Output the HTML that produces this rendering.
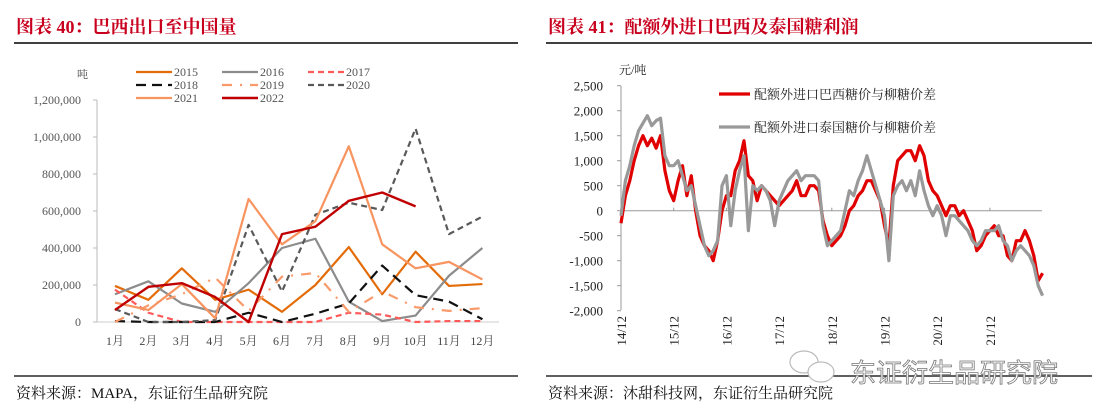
<!DOCTYPE html>
<html><head><meta charset="utf-8">
<style>
html,body{margin:0;padding:0;background:#fff;}
body{width:1101px;height:420px;overflow:hidden;position:relative;font-family:"Liberation Serif","Noto Serif CJK SC",serif;}
svg{position:absolute;left:0;top:0;}
</style></head>
<body>
<svg id="c" width="1101" height="420" xmlns="http://www.w3.org/2000/svg">
  <text x="16" y="33" font-size="18" font-weight="bold" fill="#C8001E" font-family="'Liberation Serif','Noto Serif CJK SC',serif">图表 40：巴西出口至中国量</text>
  <line x1="14" y1="43" x2="518" y2="43" stroke="#000" stroke-width="1.5"/>
  <text x="548" y="33" font-size="18" font-weight="bold" fill="#C8001E" font-family="'Liberation Serif','Noto Serif CJK SC',serif">图表 41：配额外进口巴西及泰国糖利润</text>
  <line x1="546" y1="43" x2="1092" y2="43" stroke="#000" stroke-width="1.5"/>
  <line x1="14" y1="376" x2="518" y2="376" stroke="#000" stroke-width="1.2"/>
  <line x1="546" y1="376" x2="1092" y2="376" stroke="#000" stroke-width="1.2"/>
  <text x="16" y="398" font-size="15" fill="#111" font-family="'Liberation Serif','Noto Serif CJK SC',serif">资料来源：MAPA，东证衍生品研究院</text>
  <text x="548" y="398" font-size="15" fill="#111" font-family="'Liberation Serif','Noto Serif CJK SC',serif">资料来源：沐甜科技网，东证衍生品研究院</text>
  <g id="left"></g>
  <g id="right"></g>
  <g>
    <ellipse cx="804" cy="362" rx="14" ry="11" fill="#fff" stroke="#bbb" stroke-width="1.2"/>
    <ellipse cx="821" cy="372" rx="13" ry="10" fill="#fff" stroke="#bbb" stroke-width="1.2"/>
    <text x="850" y="382" font-size="26" fill="#fff" stroke="#777" stroke-width="0.8" font-family="'Liberation Sans','Noto Sans CJK SC',sans-serif">东证衍生品研究院</text>
  </g>
</svg>
<script>
// ---- Left chart data ----
const months = ["1月","2月","3月","4月","5月","6月","7月","8月","9月","10月","11月","12月"];
const leftTicks = [0,200000,400000,600000,800000,1000000,1200000];
const y2015 = [195000,120000,290000,120000,175000,55000,200000,405000,150000,380000,195000,205000];
const y2016 = [150000,220000,100000,55000,210000,400000,450000,110000,5000,35000,250000,400000];
const y2017 = [175000,50000,0,0,0,0,0,50000,40000,0,5000,5000];
const y2018 = [5000,0,0,0,50000,0,45000,100000,305000,145000,110000,15000];
const y2019 = [0,90000,150000,240000,60000,245000,265000,55000,165000,80000,60000,75000];
const y2020 = [70000,0,0,10000,525000,165000,580000,645000,605000,1045000,475000,570000];
const y2021 = [105000,65000,205000,20000,665000,420000,545000,950000,420000,290000,325000,230000];
const y2022 = [65000,190000,210000,135000,0,475000,515000,655000,700000,625000];

// ---- Right chart data (monthly, Dec 2014 onward) ----
const rightTicks = [-2000,-1500,-1000,-500,0,500,1000,1500,2000,2500];
const rightXLabels = ["14/12","15/12","16/12","17/12","18/12","19/12","20/12","21/12"];
const brazil = [-250,300,600,1000,1300,1500,1300,1450,1250,1500,800,400,200,600,900,300,700,0,-500,-700,-800,-1000,-600,0,
 300,300,800,1000,1400,700,600,200,500,400,300,200,100,200,300,400,600,300,300,500,500,400,-200,-500,
 -700,-600,-500,-300,0,100,300,400,600,600,400,200,-300,-700,500,1000,1100,1200,1200,1000,1300,1100,600,400,
 300,100,-100,100,100,-100,0,-200,-400,-800,-700,-500,-400,-300,-500,-500,-900,-1000,-600,-600,-400,-600,-900,-1400,-1250];
const thai = [-100,600,900,1300,1600,1750,1900,1700,1800,1850,1100,900,900,1000,700,400,500,100,-300,-700,-900,-800,-600,500,
 700,-300,400,800,1100,-400,500,400,500,400,200,-300,200,400,600,700,800,600,700,700,700,600,-300,-700,
 -600,-500,-400,0,400,300,600,800,1100,800,500,200,-100,-1000,300,500,600,400,600,300,800,400,100,-100,
 100,-100,-500,-100,-100,-200,-300,-400,-600,-700,-600,-400,-400,-400,-300,-600,-700,-1000,-800,-700,-800,-900,-1100,-1500,-1700];

const NS = "http://www.w3.org/2000/svg";
function mk(tag, attrs, parent){const e=document.createElementNS(NS,tag);for(const k in attrs)e.setAttribute(k,attrs[k]);parent.appendChild(e);return e;}

// ---- Left chart ----
const L = document.getElementById('left');
const lx = i => 115 + i*33.4;
const ly = v => 322 - v/1200000*222;
const la = mk('line',{x1:97,y1:100,x2:97,y2:322,stroke:'#bbb','stroke-width':1},L);


const lb = mk('line',{x1:97,y1:322,x2:499,y2:322,stroke:'#ccc','stroke-width':1},L);


leftTicks.forEach(v=>{
  const t = mk('text',{x:81,y:ly(v)+4,'font-size':12,'text-anchor':'end',fill:'#555'},L);
  t.textContent = v.toLocaleString('en-US');
  
  
  const tk = mk('line',{x1:93,y1:ly(v),x2:97,y2:ly(v),stroke:'#bbb'},L);
  
  
});
months.forEach((m,i)=>{
  const t = mk('text',{x:lx(i),y:345,'font-size':12,'text-anchor':'middle',fill:'#444'},L);
  t.textContent = m;
  
  
});
const ut = mk('text',{x:77,y:78,'font-size':11,fill:'#444'},L); ut.textContent='吨';



const leftSeries = [
  {n:'2015',d:y2015,c:'#E36C09',w:2.2,da:''},
  {n:'2016',d:y2016,c:'#8C8C8C',w:2.2,da:''},
  {n:'2017',d:y2017,c:'#FF5A5A',w:2.2,da:'6,4'},
  {n:'2018',d:y2018,c:'#111',w:2.2,da:'10,6'},
  {n:'2019',d:y2019,c:'#FA9A6A',w:2.2,da:'10,8,2,8'},
  {n:'2020',d:y2020,c:'#595959',w:2.2,da:'6,4'},
  {n:'2021',d:y2021,c:'#F79460',w:2.2,da:''},
  {n:'2022',d:y2022,c:'#C00000',w:2.4,da:''}
];
leftSeries.forEach((s,k)=>{
  const p = mk('polyline',{points:s.d.map((v,i)=>lx(i)+','+ly(v)).join(' '),fill:'none',stroke:s.c,'stroke-width':s.w,'stroke-dasharray':s.da,'stroke-linejoin':'round'},L);
  
  
  const col = k%3, row = Math.floor(k/3);
  const x0 = 136 + col*86, yy = 72 + row*13;
  const g = mk('g',{},L);
  
  
  mk('line',{x1:x0,y1:yy,x2:x0+36,y2:yy,stroke:s.c,'stroke-width':s.w,'stroke-dasharray':s.da},g);
  const t = mk('text',{x:x0+38,y:yy+4,'font-size':12,fill:'#555'},g); t.textContent = s.n;
});

// ---- Right chart ----
const R = document.getElementById('right');
const rx = m => 621 + m*(52.7/12);
const ry = v => 210.7 - v/500*25;
const ra = mk('line',{x1:621,y1:86,x2:621,y2:310,stroke:'#999'},R);


const rz = mk('line',{x1:621,y1:ry(0),x2:1042,y2:ry(0),stroke:'#999'},R);


rightTicks.forEach(v=>{
  const t = mk('text',{x:603,y:ry(v)+5,'font-size':13,'text-anchor':'end',fill:'#222'},R);
  t.textContent = v.toLocaleString('en-US');
  
  
  const tk = mk('line',{x1:617,y1:ry(v),x2:621,y2:ry(v),stroke:'#999'},R);
  
  
});
rightXLabels.forEach((s,i)=>{
  const x = rx(i*12);
  const t = mk('text',{x:0,y:0,'font-size':13,'text-anchor':'end',fill:'#222',transform:'translate('+(x+5)+',316) rotate(-90)'},R);
  t.textContent = s;
  
  
  const tk = mk('line',{x1:x,y1:ry(0),x2:x,y2:ry(0)-3,stroke:'#999'},R);
  
  
});
const ru = mk('text',{x:619,y:74,'font-size':12,fill:'#222'},R); ru.textContent='元/吨';



const pr = mk('polyline',{points:brazil.map((v,i)=>rx(i)+','+ry(v)).join(' '),fill:'none',stroke:'#E00000','stroke-width':3.2,'stroke-linejoin':'round'},R);


const pg = mk('polyline',{points:thai.map((v,i)=>rx(i)+','+ry(v)).join(' '),fill:'none',stroke:'#999','stroke-width':3.2,'stroke-linejoin':'round'},R);



const lg1 = mk('g',{},R);


mk('line',{x1:719,y1:94,x2:750,y2:94,stroke:'#E00000','stroke-width':3.2},lg1);
const t1 = mk('text',{x:754,y:99,'font-size':13,fill:'#222','font-family':"'Liberation Serif','Noto Serif CJK SC',serif"},lg1); t1.textContent='配额外进口巴西糖价与柳糖价差';
const lg2 = mk('g',{},R);


mk('line',{x1:719,y1:127,x2:750,y2:127,stroke:'#999','stroke-width':3.2},lg2);
const t2 = mk('text',{x:754,y:132,'font-size':13,fill:'#222','font-family':"'Liberation Serif','Noto Serif CJK SC',serif"},lg2); t2.textContent='配额外进口泰国糖价与柳糖价差';
</script>
</body></html>
